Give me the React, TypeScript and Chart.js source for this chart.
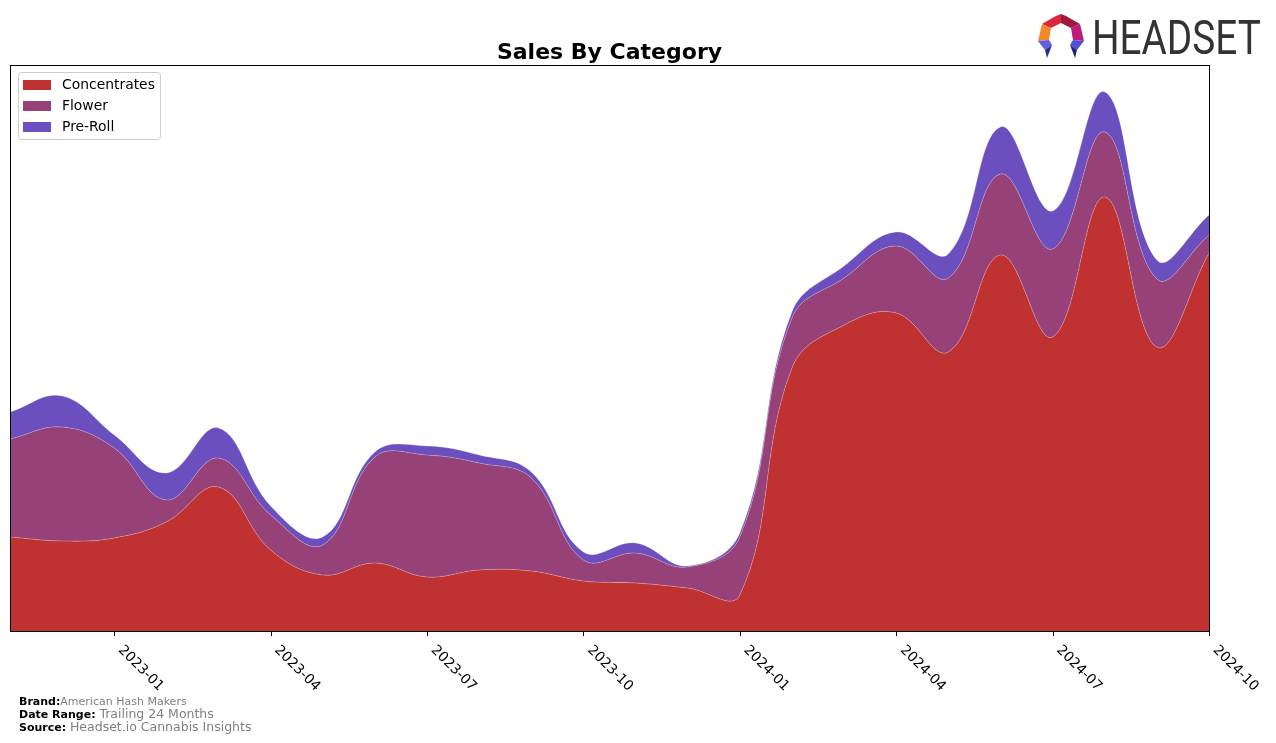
import React, { useEffect, useRef } from "react";
import { Chart, registerables } from "chart.js";

Chart.register(...registerables);

const months = [
  "2022-11", "2022-12", "2023-01", "2023-02", "2023-03", "2023-04",
  "2023-05", "2023-06", "2023-07", "2023-08", "2023-09", "2023-10",
  "2023-11", "2023-12", "2024-01", "2024-02", "2024-03", "2024-04",
  "2024-05", "2024-06", "2024-07", "2024-08", "2024-09", "2024-10",
];

const tickMonths = [
  "2023-01", "2023-04", "2023-07", "2023-10",
  "2024-01", "2024-04", "2024-07", "2024-10",
];

const concentrates = [
  94, 90, 93, 109, 144, 81, 56, 68, 54, 61, 60, 50,
  48, 43, 36, 263, 306, 318, 279, 376, 294, 434, 284, 378,
];

const flower = [
  98, 114, 90, 22, 29, 35, 30, 106, 122, 107, 93, 21,
  30, 21, 58, 50, 47, 67, 74, 81, 88, 65, 68, 18,
];

const preRoll = [
  27, 31, 13, 27, 30, 9, 8, 5, 9, 8, 6, 8,
  10, 1, 4, 6, 12, 14, 24, 47, 38, 40, 19, 20,
];

const seriesNames = ["Concentrates", "Flower", "Pre-Roll"];
const seriesColors = ["#c03232", "#964278", "#6b4fbf"];

const FONT = "'DejaVu Sans', sans-serif";

const decorPlugin = {
  id: "decor",
  afterDraw(chart: any) {
    const ctx = chart.ctx as CanvasRenderingContext2D;
    const { left, right, top, bottom } = chart.chartArea;
    const xScale = chart.scales.x;
    ctx.save();
    // frame
    ctx.strokeStyle = "#000";
    ctx.lineWidth = 1;
    ctx.strokeRect(left + 0.5, top + 0.5, right - left, bottom - top);
    // ticks and labels
    ctx.fillStyle = "#000";
    ctx.font = `13.9px ${FONT}`;
    ctx.textAlign = "left";
    ctx.textBaseline = "middle";
    tickMonths.forEach((m) => {
      const idx = months.indexOf(m);
      const x = xScale.getPixelForValue(idx);
      const xr = Math.round(x) + 0.5;
      ctx.beginPath();
      ctx.moveTo(xr, bottom + 0.5);
      ctx.lineTo(xr, bottom + 5);
      ctx.stroke();
      ctx.save();
      ctx.translate(x + 6, bottom + 17);
      ctx.rotate(Math.PI / 4);
      ctx.fillText(m, 0, 0);
      ctx.restore();
    });
    // legend
    const lx = left + 8;
    const ly = top + 7;
    const lw = 142;
    const lh = 67;
    ctx.beginPath();
    if ((ctx as any).roundRect) {
      (ctx as any).roundRect(lx + 0.5, ly + 0.5, lw, lh, 3);
    } else {
      ctx.rect(lx + 0.5, ly + 0.5, lw, lh);
    }
    ctx.fillStyle = "rgba(255,255,255,0.8)";
    ctx.fill();
    ctx.strokeStyle = "#cccccc";
    ctx.stroke();
    ctx.font = `13.9px ${FONT}`;
    ctx.textBaseline = "middle";
    chart.data.datasets.forEach((ds: any, i: number) => {
      const cy = ly + 13 + i * 21;
      ctx.fillStyle = ds.backgroundColor;
      ctx.fillRect(lx + 5, cy - 5, 28, 10);
      ctx.fillStyle = "#000";
      ctx.fillText(ds.label, lx + 44, cy);
    });
    ctx.restore();
  },
};

function SalesChart() {
  const canvasRef = useRef<HTMLCanvasElement | null>(null);

  useEffect(() => {
    if (!canvasRef.current) return;
    const values = [concentrates, flower, preRoll];
    const chart = new Chart(canvasRef.current, {
      type: "line",
      data: {
        labels: months,
        datasets: values.map((v, i) => ({
          label: seriesNames[i],
          data: v,
          backgroundColor: seriesColors[i],
          borderColor: "rgba(255,255,255,0.3)",
          borderWidth: 0.8,
          pointRadius: 0,
          tension: 0.4,
          fill: i === 0 ? "origin" : "-1",
        })),
      },
      options: {
        animation: false,
        responsive: false,
        maintainAspectRatio: false,
        layout: { padding: { left: 10, right: 67, top: 65, bottom: 112 } },
        plugins: {
          legend: { display: false },
          title: { display: false },
          tooltip: { enabled: false },
        },
        scales: {
          x: { display: false, offset: false },
          y: { display: false, stacked: true, min: 0, max: 566 },
        },
      },
      plugins: [decorPlugin],
    });
    return () => chart.destroy();
  }, []);

  return <canvas ref={canvasRef} width={1276} height={743} style={{ position: "absolute", left: 0, top: 0 }} />;
}

function Logo() {
  return (
    <div style={{ position: "absolute", left: 1038, top: 14, width: 230, height: 46 }}>
      <svg width={46} height={44} viewBox="0 0 46 44" style={{ position: "absolute", left: 0, top: 0 }}>
        <polygon points="4,10 18,2 23,0 23,9 13,14" fill="#e0243c" />
        <polygon points="23,0 28,2 42,10 33,14 23,9" fill="#a0183a" />
        <polygon points="4,10 13,14 11,26 0,27" fill="#f5892a" />
        <polygon points="42,10 46,27 35,26 33,14" fill="#be1a7c" />
        <polygon points="0,27 11,26 14,31 7,36" fill="#6060e0" />
        <polygon points="7,36 14,31 9,44" fill="#2a2a88" />
        <polygon points="46,27 35,26 32,31 39,36" fill="#5050d0" />
        <polygon points="39,36 32,31 37,44" fill="#24247a" />
      </svg>
      <div
        style={{
          position: "absolute",
          left: 54,
          top: -1,
          fontFamily: "Roboto, sans-serif",
          fontSize: 49,
          lineHeight: 1,
          color: "#333",
          whiteSpace: "nowrap",
          transform: "scaleX(0.79)",
          transformOrigin: "left top",
        }}
      >
        HEADSET
      </div>
    </div>
  );
}

function Footer() {
  const label: React.CSSProperties = { fontWeight: "bold", color: "#000", fontSize: 11 };
  const line: React.CSSProperties = {
    position: "absolute",
    left: 19,
    whiteSpace: "nowrap",
    fontFamily: FONT,
    lineHeight: 1,
  };
  return (
    <>
      <div style={{ ...line, top: 692 }}>
        <span style={label}>Brand:</span>
        <span style={{ color: "#808080", fontSize: 11 }}>American Hash Makers</span>
      </div>
      <div style={{ ...line, top: 705 }}>
        <span style={label}>Date Range: </span>
        <span style={{ color: "#808080", fontSize: 12.5 }}>Trailing 24 Months</span>
      </div>
      <div style={{ ...line, top: 718 }}>
        <span style={label}>Source: </span>
        <span style={{ color: "#808080", fontSize: 12.5 }}>Headset.io Cannabis Insights</span>
      </div>
    </>
  );
}

export default function App() {
  return (
    <div style={{ position: "absolute", left: 0, top: 0, width: 1276, height: 743, background: "#fff" }}>
      <SalesChart />
      <div
        style={{
          position: "absolute",
          left: 10,
          width: 1199,
          top: 41,
          textAlign: "center",
          fontFamily: FONT,
          fontWeight: "bold",
          fontSize: 22,
          lineHeight: 1,
          color: "#000",
        }}
      >
        Sales By Category
      </div>
      <Logo />
      <Footer />
    </div>
  );
}
